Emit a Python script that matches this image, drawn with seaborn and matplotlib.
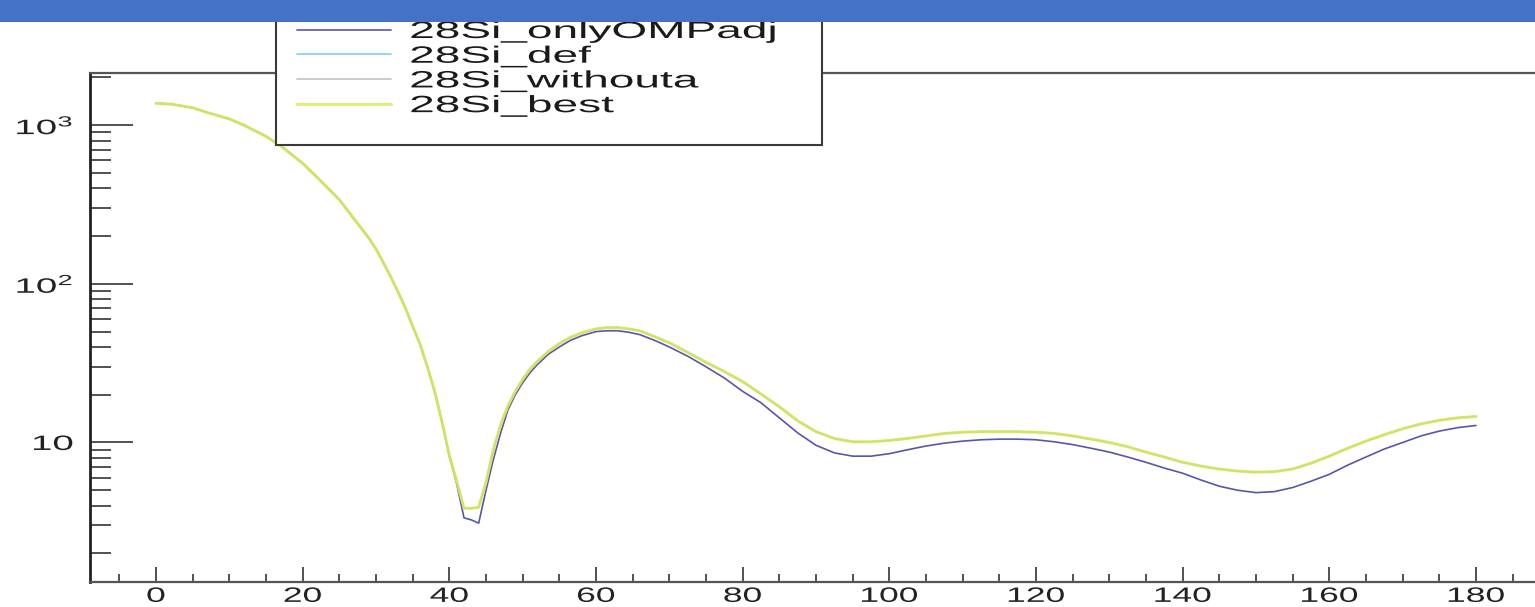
import numpy as np
import pandas as pd
import matplotlib
matplotlib.use("Agg")
import matplotlib.pyplot as plt
import seaborn as sns
from matplotlib.patches import Rectangle
from matplotlib.patheffects import AbstractPathEffect
from matplotlib.transforms import Affine2D
from matplotlib.ticker import FixedLocator, FixedFormatter, NullFormatter

# ---------------- data ----------------
angle = [0, 2, 5, 7, 10, 12, 15, 17, 20, 22, 25, 27, 29, 30, 31, 32, 33, 34, 35, 36, 37, 38, 39,
         40, 41, 42, 43, 44, 45, 46, 47, 48, 49, 50, 51, 52,
         53.5, 55, 56.5, 58, 60, 61.5, 63, 64.5, 66, 68, 70,
         72.5, 75, 77.5, 80, 82.5, 85, 87.5, 90, 92.5, 95, 97.5,
         100, 102.5, 105, 107.5, 110, 112.5, 115, 117.5, 120, 122.5, 125, 127.5, 130,
         132.5, 135, 137.5, 140, 142.5, 145, 147.5, 150, 152.5, 155, 157.5, 160,
         162.5, 165, 167.5, 170, 172.5, 175, 177.5, 180]

si28_onlyOMPadj = [1374, 1358, 1288, 1202, 1096, 1000, 851, 741, 575, 468, 339, 257, 195,
                   166, 136, 111, 89, 70.6, 54, 41.7, 30, 21, 13.5,
                   8.2, 5.5, 3.35, 3.25, 3.1, 5.0, 7.8, 11.5, 16.1, 20, 23.8, 27.5, 31,
                   36, 40, 44, 47, 50, 50.6, 50.6, 49.5, 47.8, 44, 40,
                   35, 30, 25.5, 21, 17.8, 14.3, 11.5, 9.6, 8.6, 8.2, 8.2,
                   8.5, 9.0, 9.5, 9.9, 10.2, 10.4, 10.5, 10.5, 10.4, 10.1, 9.7, 9.2, 8.7,
                   8.1, 7.5, 6.9, 6.4, 5.8, 5.3, 5.0, 4.83, 4.9, 5.2, 5.7, 6.3,
                   7.2, 8.1, 9.1, 10.0, 11.0, 11.8, 12.4, 12.8]

si28_def = [1374, 1358, 1288, 1202, 1096, 1000, 851, 741, 575, 468, 339, 257, 195,
            166, 136, 111, 89, 70.6, 54, 41.7, 30, 21, 13.5,
            8.3, 5.7, 3.85, 3.85, 3.9, 5.6, 9.0, 13, 17, 21, 25, 29, 32.5,
            37.5, 42, 46, 49, 52, 53, 53, 52, 50.5, 46.5, 42.5,
            37, 32, 28, 24.2, 20.2, 16.8, 13.7, 11.7, 10.6, 10.1, 10.1,
            10.3, 10.6, 11.0, 11.4, 11.6, 11.7, 11.7, 11.7, 11.6, 11.4, 11.0, 10.5, 10.0,
            9.4, 8.7, 8.1, 7.5, 7.1, 6.8, 6.6, 6.5, 6.55, 6.8, 7.4, 8.2,
            9.2, 10.2, 11.2, 12.2, 13.1, 13.8, 14.3, 14.6]

si28_withouta = [1374, 1358, 1288, 1202, 1096, 1000, 851, 741, 575, 468, 339, 257, 195,
                 166, 136, 111, 89, 70.6, 54, 41.7, 30, 21, 13.5,
                 8.3, 5.7, 3.85, 3.85, 3.9, 5.6, 9.0, 13, 17, 21, 25, 29, 32.5,
                 37.5, 42, 46, 49, 52, 53, 53, 52, 50.5, 46.5, 42.5,
                 37, 32, 28, 24.2, 20.2, 16.8, 13.7, 11.7, 10.6, 10.1, 10.1,
                 10.3, 10.6, 11.0, 11.4, 11.6, 11.7, 11.7, 11.7, 11.6, 11.4, 11.0, 10.5, 10.0,
                 9.4, 8.7, 8.1, 7.5, 7.1, 6.8, 6.6, 6.5, 6.55, 6.8, 7.4, 8.2,
                 9.2, 10.2, 11.2, 12.2, 13.1, 13.8, 14.3, 14.6]

si28_best = [1374, 1358, 1288, 1202, 1096, 1000, 851, 741, 575, 468, 339, 257, 195,
             166, 136, 111, 89, 70.6, 54, 41.7, 30, 21, 13.5,
             8.3, 5.7, 3.85, 3.85, 3.9, 5.6, 9.0, 13, 17, 21, 25, 29, 32.5,
             37.5, 42, 46, 49, 52, 53, 53, 52, 50.5, 46.5, 42.5,
             37, 32, 28, 24.2, 20.2, 16.8, 13.7, 11.7, 10.6, 10.1, 10.1,
             10.3, 10.6, 11.0, 11.4, 11.6, 11.7, 11.7, 11.7, 11.6, 11.4, 11.0, 10.5, 10.0,
             9.4, 8.7, 8.1, 7.5, 7.1, 6.8, 6.6, 6.5, 6.55, 6.8, 7.4, 8.2,
             9.2, 10.2, 11.2, 12.2, 13.1, 13.8, 14.3, 14.6]

series_names = ["28Si_onlyOMPadj", "28Si_def", "28Si_withouta", "28Si_best"]
series_values = [si28_onlyOMPadj, si28_def, si28_withouta, si28_best]

x_ticks = [0, 20, 40, 60, 80, 100, 120, 140, 160, 180]
x_tick_labels = ["0", "20", "40", "60", "80", "100", "120", "140", "160", "180"]
y_ticks = [10, 100, 1000]
y_tick_labels = ["10", r"$\mathregular{10^{2}}$", r"$\mathregular{10^{3}}$"]

# ---------------- styles ----------------
colors = {"28Si_onlyOMPadj": "#5656ae", "28Si_def": "#7fcfe0",
          "28Si_withouta": "#c2c2c2", "28Si_best": "#d6ea55"}
widths = {"28Si_onlyOMPadj": 1.2, "28Si_def": 1.2, "28Si_withouta": 1.2, "28Si_best": 2.2}
alphas = {"28Si_onlyOMPadj": 1.0, "28Si_def": 1.0, "28Si_withouta": 1.0, "28Si_best": 0.8}

sns.set_style("white")
plt.rcParams["font.family"] = ["Liberation Sans", "DejaVu Sans"]
plt.rcParams["mathtext.fontset"] = "custom"
plt.rcParams["mathtext.rm"] = "Liberation Sans"
plt.rcParams["mathtext.it"] = "Liberation Sans:italic"
plt.rcParams["mathtext.bf"] = "Liberation Sans:bold"


class HStretch(AbstractPathEffect):
    """Widen glyphs horizontally (the reference is horizontally stretched)."""
    def __init__(self, sx, anchor="left"):
        super().__init__((0, 0))
        self.sx = sx
        self.anchor = anchor

    def draw_path(self, renderer, gc, tpath, affine, rgbFace=None):
        ext = tpath.get_extents()
        if self.anchor == "left":
            a = 0.0
        elif self.anchor == "center":
            a = 0.5 * (ext.x0 + ext.x1)
        else:
            a = ext.x1
        t = Affine2D().translate(-a, 0).scale(self.sx, 1.0).translate(a, 0) + affine
        renderer.draw_path(gc, tpath, t, rgbFace)


W, H = 1535, 607
fig = plt.figure(figsize=(W / 100, H / 100), dpi=100)
fig.patch.set_facecolor("white")

ax_l, ax_r, ax_t, ax_b = 90, 1542, 73, 582
ax = fig.add_axes([ax_l / W, 1 - ax_b / H, (ax_r - ax_l) / W, (ax_b - ax_t) / H])

df = pd.DataFrame({
    "angle": np.tile(np.asarray(angle, float), len(series_names)),
    "xs": np.concatenate([np.asarray(v, float) for v in series_values]),
    "series": np.repeat(series_names, len(angle)),
})

for name in series_names:
    sub = df[df["series"] == name]
    sns.lineplot(data=sub, x="angle", y="xs", ax=ax, color=colors[name],
                 linewidth=widths[name], alpha=alphas[name], estimator=None,
                 sort=False, label=name, legend=False)

ax.set_yscale("log")
ax.set_xlim(-9, 189)
ax.set_ylim(1.32, 2133)
ax.set_xlabel("")
ax.set_ylabel("")

ax.xaxis.set_major_locator(FixedLocator(x_ticks))
ax.xaxis.set_major_formatter(FixedFormatter(x_tick_labels))
ax.xaxis.set_minor_locator(FixedLocator(list(range(-5, 190, 5))))
ax.xaxis.set_minor_formatter(NullFormatter())
ax.yaxis.set_major_locator(FixedLocator(y_ticks))
ax.yaxis.set_major_formatter(FixedFormatter(y_tick_labels))
ax.yaxis.set_minor_locator(FixedLocator([m * d for d in (1, 10, 100, 1000) for m in range(2, 10)]))
ax.yaxis.set_minor_formatter(NullFormatter())

ax.tick_params(axis="x", which="major", direction="in", length=10.8, width=1.2,
               color="#333333", labelsize=15, labelcolor="#222222", pad=3.5,
               top=False, bottom=True)
ax.tick_params(axis="x", which="minor", direction="in", length=5.8, width=1.2,
               color="#333333", top=False, bottom=True)
ax.tick_params(axis="y", which="major", direction="in", length=31, width=1.2,
               color="#333333", labelsize=15, labelcolor="#222222", pad=12,
               left=True, right=False)
ax.tick_params(axis="y", which="minor", direction="in", length=15, width=1.2,
               color="#333333", left=True, right=False)

for side in ("left", "top", "bottom"):
    ax.spines[side].set_visible(True)
ax.spines["left"].set_linewidth(2.0)
ax.spines["left"].set_color("#222222")
ax.spines["bottom"].set_linewidth(1.6)
ax.spines["bottom"].set_color("#555555")
ax.spines["top"].set_linewidth(1.6)
ax.spines["top"].set_color("#555555")
ax.spines["right"].set_visible(False)

for lbl in ax.get_xticklabels():
    lbl.set_path_effects([HStretch(1.7, "center")])
for lbl in ax.get_yticklabels():
    lbl.set_path_effects([HStretch(1.85, "right")])

# legend box
fig.add_artist(Rectangle((276 / W, 1 - 145 / H), (822 - 276) / W, (145 - 5) / H,
                         transform=fig.transFigure, facecolor="white",
                         edgecolor="#3a3a3a", linewidth=1.5, zorder=3))
handles = ax.get_lines()[:len(series_names)]
leg = fig.legend(handles, series_names, loc="upper left",
                 bbox_to_anchor=(297 / W, 1 - 21 / H), bbox_transform=fig.transFigure,
                 frameon=False, fontsize=17, handlelength=4.0, handletextpad=0.75,
                 labelspacing=0.115, borderpad=0, borderaxespad=0)
leg.set_zorder(5)
for t in leg.get_texts():
    t.set_color("#1a1a1a")
    t.set_path_effects([HStretch(1.95, "left")])

# blue banner at the top
fig.add_artist(Rectangle((0, 1 - 22 / H), 1, 22 / H, transform=fig.transFigure,
                         facecolor="#4472c4", edgecolor="none", zorder=10))

fig.savefig("out.png", dpi=100, facecolor="white")
